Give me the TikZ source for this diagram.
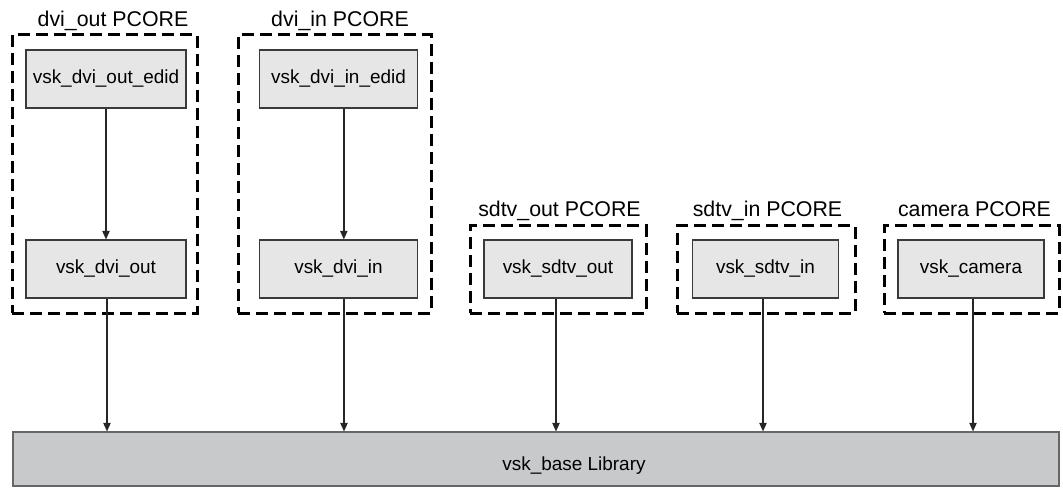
\documentclass[tikz,border=0pt]{standalone}
\usepackage{fontspec}
\setmainfont{Liberation Sans}
\usetikzlibrary{fit}
\usetikzlibrary{arrows.meta}

\definecolor{boxgray}{HTML}{E6E6E7}
\definecolor{basegray}{HTML}{C8C9CB}
\definecolor{edgegray}{HTML}{3A3A3A}

\begin{document}
\begin{tikzpicture}[x=0.75pt,y=-0.75pt,
    block/.style={draw=edgegray,fill=boxgray,line width=0.8pt,minimum height=43.5pt,inner sep=0pt,font=\fontsize{14.2}{17}\selectfont},
    pcore/.style={draw,line width=2.25pt,dash pattern=on 9pt off 4.5pt,inner sep=0pt},
    title/.style={anchor=base,inner sep=0pt,font=\fontsize{16}{19}\selectfont},
    arr/.style={draw=black!85,line width=1pt,-{Triangle[length=6.5pt,width=5.5pt]}}]
    \useasboundingbox (0,0) rectangle (1063,488);

    \node[block,minimum width=120pt] (dvioutedid) at (106,79) {vsk\_dvi\_out\_edid};
    \node[block,minimum width=120pt] (dviout) at (106,269) {vsk\_dvi\_out};
    \node[block,minimum width=119pt] (dviinedid) at (338.5,79) {vsk\_dvi\_in\_edid};
    \node[block,minimum width=119pt] (dviin) at (338.5,269) {vsk\_dvi\_in};
    \node[block,minimum width=111pt] (sdtvout) at (558,269) {vsk\_sdtv\_out};
    \node[block,minimum width=110pt] (sdtvin) at (765.5,269) {vsk\_sdtv\_in};
    \node[block,minimum width=109.5pt] (camera) at (971,269) {vsk\_camera};

    \node[pcore,fit={(12,35) (197,313)}] (dvioutcore) {};
    \node[pcore,fit={(238,35) (431,313)}] (dviincore) {};
    \node[pcore,fit={(470,226) (646,313)}] (sdtvoutcore) {};
    \node[pcore,fit={(677,226) (855,313)}] (sdtvincore) {};
    \node[pcore,fit={(884,226) (1059,313)}] (cameracore) {};

    \node[title] (dvioutname) at (113,27) {dvi\_out PCORE};
    \node[title] (dviinname) at (340,27) {dvi\_in PCORE};
    \node[title] (sdtvoutname) at (559.5,217) {sdtv\_out PCORE};
    \node[title] (sdtvinname) at (767.5,217) {sdtv\_in PCORE};
    \node[title] (cameraname) at (974.5,217) {camera PCORE};

    \node[draw=black!60,fill=basegray,line width=0.8pt,inner sep=0pt,fit={(13,432) (1059,486)}] (base) {};
    \node[font=\fontsize{14.2}{17}\selectfont] (basename) at (574,466) {vsk\_base Library};

    \draw[arr] (dvioutedid) -- (dviout);
    \draw[arr] ([xshift=4pt]dviinedid.south) -- ([xshift=4pt]dviin.north);
    \foreach \n/\dx in {dviout/1,dviin/5.5,sdtvout/-2,sdtvin/-2.5,camera/2}{
        \draw[arr] ([xshift=\dx*0.75pt]\n.south) -- ([xshift=\dx*0.75pt]\n.south |- base.north);
    }

\end{tikzpicture}
\end{document}
